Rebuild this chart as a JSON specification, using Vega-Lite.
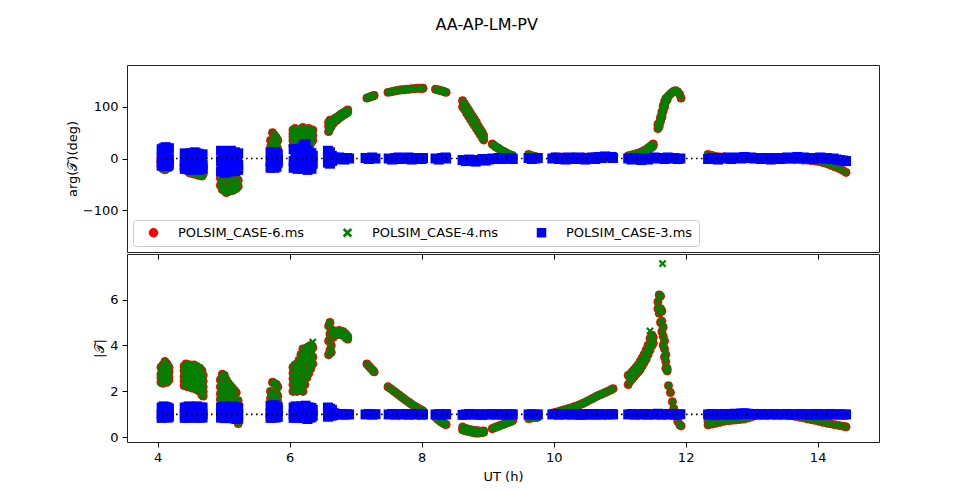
{
"$schema": "https://vega.github.io/schema/vega-lite/v6.json",
"background": "white",
"padding": {"left": 65, "top": 16, "right": 5, "bottom": 5},
"title": {"text": "AA-AP-LM-PV", "fontSize": 16, "fontWeight": "normal", "font": "DejaVu Sans", "color": "black", "anchor": "middle", "offset": 32, "dx": 14},
"config": {
  "font": "DejaVu Sans",
  "view": {"stroke": "#222222", "strokeWidth": 1},
  "axis": {"grid": false, "domain": false, "tickColor": "black", "tickSize": 5, "tickWidth": 1, "labelFontSize": 13, "labelColor": "black", "labelPadding": 4, "titleFontSize": 13, "titleFontWeight": "normal", "titleColor": "black", "titlePadding": 6, "labelFont": "DejaVu Sans", "titleFont": "DejaVu Sans"}
},
"datasets": {
"rg": [
{"t":4.05,"p":-5,"a":2.4},{"t":4.05,"p":-15,"a":2.75},{"t":4.05,"p":0,"a":3.05},{"t":4.05,"p":-8,"a":2.6},
{"t":4.08,"p":-20,"a":2.35},{"t":4.08,"p":-8,"a":2.85},{"t":4.08,"p":2,"a":3.15},{"t":4.08,"p":-12,"a":2.6},
{"t":4.11,"p":-22,"a":2.45},{"t":4.11,"p":-10,"a":3.0},{"t":4.11,"p":-2,"a":3.3},{"t":4.11,"p":-5,"a":2.7},
{"t":4.14,"p":-15,"a":2.4},{"t":4.14,"p":-5,"a":2.8},{"t":4.14,"p":-18,"a":3.2},{"t":4.14,"p":-10,"a":3.0},
{"t":4.17,"p":-10,"a":2.5},{"t":4.17,"p":-18,"a":2.85},{"t":4.17,"p":-3,"a":3.05},{"t":4.17,"p":-6,"a":2.65},
{"t":4.40,"p":-5,"a":3.1},{"t":4.40,"p":-15,"a":2.65},{"t":4.40,"p":-22,"a":2.25},{"t":4.40,"p":-10,"a":2.9},{"t":4.40,"p":-20,"a":2.45},
{"t":4.43,"p":-18,"a":3.2},{"t":4.43,"p":-3,"a":2.75},{"t":4.43,"p":-12,"a":2.3},{"t":4.43,"p":-6,"a":2.95},{"t":4.43,"p":-22,"a":2.5},
{"t":4.46,"p":-8,"a":3.15},{"t":4.46,"p":-25,"a":2.6},{"t":4.46,"p":-2,"a":2.2},{"t":4.46,"p":-15,"a":2.9},{"t":4.46,"p":-10,"a":2.4},
{"t":4.49,"p":-26,"a":3.15},{"t":4.49,"p":-12,"a":2.7},{"t":4.49,"p":-20,"a":2.2},{"t":4.49,"p":-4,"a":2.95},{"t":4.49,"p":-28,"a":2.45},
{"t":4.52,"p":-5,"a":3.1},{"t":4.52,"p":-28,"a":2.55},{"t":4.52,"p":-15,"a":2.15},{"t":4.52,"p":-18,"a":2.85},{"t":4.52,"p":-8,"a":2.35},
{"t":4.55,"p":-20,"a":3.15},{"t":4.55,"p":-8,"a":2.65},{"t":4.55,"p":-30,"a":2.2},{"t":4.55,"p":-12,"a":2.9},{"t":4.55,"p":-25,"a":2.4},
{"t":4.58,"p":-30,"a":3.1},{"t":4.58,"p":-15,"a":2.6},{"t":4.58,"p":-3,"a":2.1},{"t":4.58,"p":-22,"a":2.85},{"t":4.58,"p":-10,"a":2.35},
{"t":4.61,"p":-10,"a":3.05},{"t":4.61,"p":-32,"a":2.5},{"t":4.61,"p":-22,"a":2.05},{"t":4.61,"p":-25,"a":2.8},{"t":4.61,"p":-5,"a":2.3},
{"t":4.64,"p":-28,"a":3.0},{"t":4.64,"p":-5,"a":2.45},{"t":4.64,"p":-33,"a":2.0},{"t":4.64,"p":-12,"a":2.75},{"t":4.64,"p":-20,"a":2.2},
{"t":4.67,"p":-18,"a":2.9},{"t":4.67,"p":-34,"a":2.35},{"t":4.67,"p":-8,"a":1.85},{"t":4.67,"p":-28,"a":2.65},{"t":4.67,"p":-14,"a":2.1},
{"t":4.69,"p":-30,"a":2.7},{"t":4.69,"p":-15,"a":2.2},{"t":4.69,"p":-25,"a":1.8},{"t":4.69,"p":-8,"a":2.45},{"t":4.69,"p":-20,"a":2.0},
{"t":4.95,"p":-5,"a":2.5},{"t":4.95,"p":-22,"a":2.2},{"t":4.95,"p":-38,"a":1.9},{"t":4.95,"p":-52,"a":1.65},
{"t":4.98,"p":-45,"a":2.75},{"t":4.98,"p":-30,"a":2.35},{"t":4.98,"p":-12,"a":2.0},{"t":4.98,"p":-60,"a":1.7},
{"t":5.01,"p":-8,"a":2.7},{"t":5.01,"p":-62,"a":2.3},{"t":5.01,"p":-42,"a":1.9},{"t":5.01,"p":-25,"a":1.55},
{"t":5.04,"p":-55,"a":2.5},{"t":5.04,"p":-18,"a":2.25},{"t":5.04,"p":-66,"a":1.85},{"t":5.04,"p":-36,"a":1.45},
{"t":5.07,"p":-30,"a":2.35},{"t":5.07,"p":-50,"a":2.1},{"t":5.07,"p":-10,"a":1.75},{"t":5.07,"p":-64,"a":1.35},
{"t":5.10,"p":-62,"a":2.25},{"t":5.10,"p":-40,"a":1.9},{"t":5.10,"p":-20,"a":1.6},{"t":5.10,"p":-5,"a":1.3},
{"t":5.13,"p":-15,"a":2.15},{"t":5.13,"p":-56,"a":1.8},{"t":5.13,"p":-34,"a":1.45},{"t":5.13,"p":-62,"a":1.1},
{"t":5.16,"p":-46,"a":2.05},{"t":5.16,"p":-25,"a":1.7},{"t":5.16,"p":-60,"a":1.3},{"t":5.16,"p":-8,"a":1.0},
{"t":5.19,"p":-5,"a":1.95},{"t":5.19,"p":-52,"a":1.6},{"t":5.19,"p":-30,"a":1.15},{"t":5.19,"p":-58,"a":0.8},
{"t":5.22,"p":-42,"a":1.6},{"t":5.22,"p":-20,"a":1.25},{"t":5.22,"p":-54,"a":0.9},{"t":5.22,"p":-12,"a":0.6},
{"t":5.71,"p":5,"a":1.35},{"t":5.71,"p":22,"a":1.7},{"t":5.71,"p":35,"a":2.0},
{"t":5.74,"p":50,"a":2.4},{"t":5.74,"p":28,"a":1.9},{"t":5.74,"p":10,"a":1.5},
{"t":5.77,"p":45,"a":2.35},{"t":5.77,"p":22,"a":1.85},{"t":5.77,"p":5,"a":1.5},
{"t":5.80,"p":40,"a":2.3},{"t":5.80,"p":25,"a":1.9},{"t":5.80,"p":10,"a":1.6},
{"t":5.82,"p":35,"a":2.2},{"t":5.82,"p":18,"a":1.8},{"t":5.82,"p":8,"a":1.55},
{"t":6.05,"p":25,"a":2.0},{"t":6.05,"p":42,"a":2.55},{"t":6.05,"p":55,"a":3.05},{"t":6.05,"p":35,"a":2.3},{"t":6.05,"p":48,"a":2.8},
{"t":6.08,"p":58,"a":3.15},{"t":6.08,"p":30,"a":2.1},{"t":6.08,"p":45,"a":2.6},{"t":6.08,"p":40,"a":2.35},{"t":6.08,"p":50,"a":2.9},
{"t":6.11,"p":35,"a":2.65},{"t":6.11,"p":55,"a":3.2},{"t":6.11,"p":22,"a":2.0},{"t":6.11,"p":45,"a":2.4},{"t":6.11,"p":30,"a":2.95},
{"t":6.14,"p":50,"a":2.2},{"t":6.14,"p":28,"a":2.85},{"t":6.14,"p":40,"a":3.35},{"t":6.14,"p":35,"a":2.5},{"t":6.14,"p":55,"a":3.1},
{"t":6.17,"p":25,"a":2.1},{"t":6.17,"p":52,"a":3.0},{"t":6.17,"p":38,"a":3.6},{"t":6.17,"p":45,"a":2.4},{"t":6.17,"p":30,"a":3.3},
{"t":6.20,"p":60,"a":3.85},{"t":6.20,"p":42,"a":2.9},{"t":6.20,"p":22,"a":2.0},{"t":6.20,"p":35,"a":2.5},{"t":6.20,"p":50,"a":3.4},
{"t":6.23,"p":30,"a":2.3},{"t":6.23,"p":50,"a":3.3},{"t":6.23,"p":40,"a":3.8},{"t":6.23,"p":45,"a":2.7},{"t":6.23,"p":25,"a":3.55},
{"t":6.26,"p":55,"a":3.9},{"t":6.26,"p":25,"a":2.6},{"t":6.26,"p":45,"a":3.2},{"t":6.26,"p":40,"a":2.9},{"t":6.26,"p":35,"a":3.55},
{"t":6.29,"p":35,"a":2.8},{"t":6.29,"p":58,"a":3.5},{"t":6.29,"p":28,"a":3.95},{"t":6.29,"p":50,"a":3.1},{"t":6.29,"p":42,"a":3.7},
{"t":6.32,"p":50,"a":4.0},{"t":6.32,"p":40,"a":3.0},{"t":6.32,"p":30,"a":3.6},{"t":6.32,"p":45,"a":3.3},{"t":6.32,"p":55,"a":3.8},
{"t":6.35,"p":45,"a":3.9},{"t":6.35,"p":35,"a":3.2},{"t":6.35,"p":55,"a":3.5},
{"t":6.35,"p":48,"a":4.15,"o":1},
{"t":6.59,"p":52,"a":3.6},{"t":6.59,"p":62,"a":4.2},{"t":6.59,"p":70,"a":4.85},
{"t":6.61,"p":58,"a":3.8},{"t":6.61,"p":68,"a":4.5},{"t":6.61,"p":74,"a":5.0},
{"t":6.63,"p":62,"a":4.0},{"t":6.63,"p":74,"a":4.7},{"t":6.63,"p":68,"a":3.7},
{"t":6.66,"p":74,"a":4.6},{"t":6.66,"p":68,"a":4.35},
{"t":6.69,"p":78,"a":4.62},{"t":6.69,"p":72,"a":4.45},
{"t":6.72,"p":80,"a":4.62},{"t":6.72,"p":75,"a":4.48},
{"t":6.75,"p":83,"a":4.65},{"t":6.75,"p":78,"a":4.5},
{"t":6.78,"p":86,"a":4.62},{"t":6.78,"p":81,"a":4.46},
{"t":6.81,"p":88,"a":4.6},{"t":6.81,"p":84,"a":4.44},
{"t":6.84,"p":90,"a":4.52},{"t":6.84,"p":86,"a":4.38},
{"t":6.86,"p":92,"a":4.45},{"t":6.86,"p":88,"a":4.32},
{"t":6.88,"p":94,"a":4.38},{"t":6.88,"p":90,"a":4.28},
{"t":7.17,"p":117,"a":3.2},{"t":7.20,"p":118,"a":3.1},{"t":7.23,"p":120,"a":3.0},{"t":7.26,"p":121,"a":2.92},{"t":7.28,"p":122,"a":2.85},
{"t":7.49,"p":128,"a":2.2},{"t":7.53,"p":129,"a":2.12},{"t":7.57,"p":130,"a":2.03},{"t":7.61,"p":131,"a":1.95},{"t":7.65,"p":132,"a":1.86},
{"t":7.69,"p":133,"a":1.77},{"t":7.73,"p":133,"a":1.69},{"t":7.77,"p":134,"a":1.6},{"t":7.81,"p":134,"a":1.52},{"t":7.85,"p":135,"a":1.44},
{"t":7.89,"p":135,"a":1.37},{"t":7.93,"p":136,"a":1.3},{"t":7.97,"p":136,"a":1.23},{"t":8.00,"p":136,"a":1.18},{"t":8.02,"p":136,"a":1.14},
{"t":8.21,"p":134,"a":0.88},{"t":8.24,"p":133,"a":0.8},{"t":8.27,"p":132,"a":0.73},{"t":8.30,"p":131,"a":0.67},{"t":8.33,"p":130,"a":0.62},{"t":8.35,"p":129,"a":0.58},{"t":8.37,"p":128,"a":0.56},
{"t":8.62,"p":112,"a":0.45},{"t":8.62,"p":100,"a":0.33},
{"t":8.65,"p":106,"a":0.4},{"t":8.65,"p":95,"a":0.3},
{"t":8.68,"p":100,"a":0.38},{"t":8.68,"p":88,"a":0.28},
{"t":8.71,"p":94,"a":0.35},{"t":8.71,"p":82,"a":0.26},
{"t":8.74,"p":88,"a":0.33},{"t":8.74,"p":76,"a":0.24},
{"t":8.77,"p":82,"a":0.31},{"t":8.77,"p":70,"a":0.22},
{"t":8.80,"p":76,"a":0.3},{"t":8.80,"p":64,"a":0.2},
{"t":8.83,"p":70,"a":0.29},{"t":8.83,"p":58,"a":0.19},
{"t":8.86,"p":62,"a":0.28},{"t":8.86,"p":52,"a":0.19},
{"t":8.89,"p":56,"a":0.27},{"t":8.89,"p":46,"a":0.2},
{"t":8.92,"p":50,"a":0.27},{"t":8.92,"p":40,"a":0.21},
{"t":8.94,"p":44,"a":0.28},{"t":8.94,"p":36,"a":0.23},
{"t":9.07,"p":28,"a":0.38},{"t":9.10,"p":25,"a":0.42},{"t":9.13,"p":22,"a":0.45},{"t":9.16,"p":20,"a":0.48},{"t":9.19,"p":17,"a":0.52},{"t":9.22,"p":15,"a":0.55},
{"t":9.25,"p":13,"a":0.58},{"t":9.28,"p":11,"a":0.62},{"t":9.31,"p":9,"a":0.65},{"t":9.34,"p":7,"a":0.68},{"t":9.37,"p":6,"a":0.72},{"t":9.38,"p":5,"a":0.74},
{"t":9.62,"p":8,"a":0.82},{"t":9.65,"p":6,"a":0.84},{"t":9.68,"p":5,"a":0.85},{"t":9.71,"p":4,"a":0.86},{"t":9.74,"p":3,"a":0.87},{"t":9.76,"p":2,"a":0.88},
{"t":9.98,"p":2,"a":1.05},{"t":10.02,"p":3,"a":1.08},{"t":10.06,"p":1,"a":1.11},{"t":10.10,"p":2,"a":1.15},{"t":10.14,"p":3,"a":1.18},{"t":10.18,"p":2,"a":1.21},
{"t":10.22,"p":1,"a":1.25},{"t":10.26,"p":2,"a":1.28},{"t":10.30,"p":3,"a":1.32},{"t":10.34,"p":2,"a":1.36},{"t":10.38,"p":1,"a":1.4},{"t":10.42,"p":2,"a":1.45},
{"t":10.46,"p":3,"a":1.5},{"t":10.50,"p":2,"a":1.56},{"t":10.54,"p":2,"a":1.62},{"t":10.58,"p":3,"a":1.68},{"t":10.62,"p":2,"a":1.74},{"t":10.66,"p":1,"a":1.8},
{"t":10.70,"p":2,"a":1.85},{"t":10.74,"p":3,"a":1.9},{"t":10.78,"p":2,"a":1.95},{"t":10.82,"p":2,"a":2.0},{"t":10.86,"p":3,"a":2.06},{"t":10.90,"p":2,"a":2.12},
{"t":11.13,"p":3,"a":2.3},{"t":11.13,"p":5,"a":2.7},
{"t":11.16,"p":4,"a":2.45},{"t":11.16,"p":6,"a":2.75},
{"t":11.19,"p":5,"a":2.55},{"t":11.19,"p":7,"a":2.85},
{"t":11.22,"p":6,"a":2.65},{"t":11.22,"p":8,"a":2.95},
{"t":11.25,"p":7,"a":2.75},{"t":11.25,"p":9,"a":3.05},
{"t":11.28,"p":8,"a":2.85},{"t":11.28,"p":10,"a":3.15},
{"t":11.31,"p":9,"a":2.95},{"t":11.31,"p":11,"a":3.3},
{"t":11.34,"p":10,"a":3.1},{"t":11.34,"p":13,"a":3.45},
{"t":11.37,"p":12,"a":3.25},{"t":11.37,"p":15,"a":3.6},
{"t":11.40,"p":14,"a":3.4},{"t":11.40,"p":17,"a":3.8},
{"t":11.43,"p":16,"a":3.6},{"t":11.43,"p":20,"a":4.0},
{"t":11.46,"p":19,"a":3.8},{"t":11.46,"p":23,"a":4.3},
{"t":11.49,"p":22,"a":4.0},{"t":11.49,"p":26,"a":4.45},
{"t":11.51,"p":25,"a":4.1},{"t":11.51,"p":28,"a":4.35},
{"t":11.46,"p":22,"a":4.63,"o":1},
{"t":11.58,"p":58,"a":5.6},{"t":11.58,"p":66,"a":5.9},
{"t":11.60,"p":68,"a":6.2},{"t":11.60,"p":62,"a":5.4},
{"t":11.62,"p":72,"a":6.15},{"t":11.62,"p":80,"a":5.0},{"t":11.62,"p":76,"a":5.6},
{"t":11.64,"p":84,"a":5.5},{"t":11.64,"p":90,"a":4.6},{"t":11.64,"p":80,"a":5.05},
{"t":11.66,"p":96,"a":4.8},{"t":11.66,"p":102,"a":4.0},{"t":11.66,"p":92,"a":4.4},
{"t":11.68,"p":104,"a":4.2},{"t":11.68,"p":110,"a":3.5},{"t":11.68,"p":100,"a":3.85},
{"t":11.70,"p":110,"a":3.6},{"t":11.70,"p":116,"a":3.0},{"t":11.70,"p":113,"a":3.3},
{"t":11.72,"p":118,"a":3.0},{"t":11.72,"p":114,"a":2.9},
{"t":11.65,"p":95,"a":7.56,"o":1},
{"t":11.74,"p":121,"a":2.25},{"t":11.77,"p":125,"a":1.95},{"t":11.80,"p":128,"a":1.55},{"t":11.82,"p":130,"a":1.25},
{"t":11.85,"p":131,"a":0.95},{"t":11.88,"p":129,"a":0.7},{"t":11.91,"p":124,"a":0.55},{"t":11.93,"p":117,"a":0.5},
{"t":12.34,"p":8,"a":0.55},{"t":12.34,"p":6,"a":0.7},{"t":12.40,"p":6,"a":0.58},{"t":12.40,"p":5,"a":0.72},
{"t":12.46,"p":4,"a":0.62},{"t":12.52,"p":3,"a":0.66},{"t":12.58,"p":3,"a":0.7},{"t":12.64,"p":2,"a":0.72},
{"t":12.70,"p":2,"a":0.74},{"t":12.76,"p":2,"a":0.76},{"t":12.82,"p":2,"a":0.78},{"t":12.88,"p":2,"a":0.8},
{"t":12.94,"p":1,"a":0.84},{"t":13.00,"p":2,"a":0.9},{"t":13.06,"p":1,"a":0.95},{"t":13.12,"p":2,"a":0.98},
{"t":13.18,"p":1,"a":1.0},{"t":13.24,"p":1,"a":1.0},{"t":13.30,"p":0,"a":1.0},{"t":13.36,"p":1,"a":0.99},
{"t":13.42,"p":0,"a":0.99},{"t":13.48,"p":0,"a":0.98},{"t":13.54,"p":-1,"a":0.97},{"t":13.60,"p":-1,"a":0.95},
{"t":13.66,"p":-2,"a":0.92},{"t":13.72,"p":-2,"a":0.88},{"t":13.78,"p":-3,"a":0.85},{"t":13.84,"p":-3,"a":0.81},
{"t":13.90,"p":-4,"a":0.78},{"t":13.96,"p":-5,"a":0.74},{"t":14.02,"p":-6,"a":0.7},{"t":14.08,"p":-8,"a":0.66},
{"t":14.14,"p":-10,"a":0.62},{"t":14.20,"p":-13,"a":0.59},{"t":14.26,"p":-16,"a":0.55},{"t":14.32,"p":-19,"a":0.52},
{"t":14.38,"p":-23,"a":0.49},{"t":14.43,"p":-27,"a":0.46}
],
"b": [
{"t":4.06,"p":18,"a":1.3},{"t":4.06,"p":2,"a":1.0},{"t":4.06,"p":-14,"a":0.85},
{"t":4.09,"p":-12,"a":1.35},{"t":4.09,"p":20,"a":0.9},{"t":4.09,"p":5,"a":1.1},
{"t":4.12,"p":10,"a":0.88},{"t":4.12,"p":-15,"a":1.2},{"t":4.12,"p":22,"a":1.32},
{"t":4.15,"p":-5,"a":1.3},{"t":4.15,"p":15,"a":1.05},{"t":4.15,"p":-14,"a":0.86},
{"t":4.17,"p":20,"a":1.0},{"t":4.17,"p":0,"a":1.25},{"t":4.17,"p":-12,"a":0.9},
{"t":4.41,"p":10,"a":1.3},{"t":4.41,"p":-5,"a":1.0},{"t":4.41,"p":-20,"a":0.85},
{"t":4.44,"p":-18,"a":1.3},{"t":4.44,"p":8,"a":0.88},{"t":4.44,"p":-3,"a":1.1},
{"t":4.47,"p":5,"a":1.35},{"t":4.47,"p":-20,"a":1.05},{"t":4.47,"p":-8,"a":0.86},
{"t":4.50,"p":-12,"a":1.3},{"t":4.50,"p":10,"a":1.0},{"t":4.50,"p":-22,"a":0.88},
{"t":4.53,"p":8,"a":1.32},{"t":4.53,"p":-6,"a":0.9},{"t":4.53,"p":-18,"a":1.15},
{"t":4.56,"p":-20,"a":1.3},{"t":4.56,"p":4,"a":1.05},{"t":4.56,"p":12,"a":0.86},
{"t":4.59,"p":10,"a":1.35},{"t":4.59,"p":-15,"a":0.88},{"t":4.59,"p":-2,"a":1.1},
{"t":4.62,"p":-8,"a":1.3},{"t":4.62,"p":-22,"a":1.0},{"t":4.62,"p":9,"a":0.87},
{"t":4.65,"p":6,"a":1.3},{"t":4.65,"p":-18,"a":1.2},{"t":4.65,"p":-5,"a":0.86},
{"t":4.68,"p":-12,"a":1.3},{"t":4.68,"p":8,"a":1.0},{"t":4.68,"p":-20,"a":0.87},
{"t":4.96,"p":15,"a":1.3},{"t":4.96,"p":-5,"a":1.0},{"t":4.96,"p":-25,"a":0.86},
{"t":4.99,"p":-20,"a":1.32},{"t":4.99,"p":10,"a":0.88},{"t":4.99,"p":-2,"a":1.12},
{"t":5.02,"p":5,"a":1.35},{"t":5.02,"p":-28,"a":1.05},{"t":5.02,"p":-12,"a":0.84},
{"t":5.05,"p":-15,"a":1.3},{"t":5.05,"p":14,"a":1.0},{"t":5.05,"p":-25,"a":0.86},
{"t":5.08,"p":12,"a":1.32},{"t":5.08,"p":-8,"a":0.88},{"t":5.08,"p":-22,"a":1.15},
{"t":5.11,"p":-25,"a":1.3},{"t":5.11,"p":2,"a":1.05},{"t":5.11,"p":15,"a":0.84},
{"t":5.14,"p":10,"a":1.35},{"t":5.14,"p":-18,"a":0.86},{"t":5.14,"p":-5,"a":1.1},
{"t":5.17,"p":-8,"a":1.3},{"t":5.17,"p":-24,"a":1.0},{"t":5.17,"p":12,"a":0.82},
{"t":5.20,"p":8,"a":1.3},{"t":5.20,"p":-20,"a":1.2},{"t":5.20,"p":-5,"a":0.8},
{"t":5.22,"p":-12,"a":1.28},{"t":5.22,"p":10,"a":1.0},{"t":5.22,"p":-22,"a":0.82},
{"t":5.71,"p":12,"a":1.38},{"t":5.71,"p":-5,"a":1.05},{"t":5.71,"p":-18,"a":0.85},
{"t":5.74,"p":-15,"a":1.35},{"t":5.74,"p":8,"a":0.88},{"t":5.74,"p":0,"a":1.15},
{"t":5.77,"p":5,"a":1.4},{"t":5.77,"p":-18,"a":1.0},{"t":5.77,"p":12,"a":0.86},
{"t":5.80,"p":-10,"a":1.3},{"t":5.80,"p":10,"a":1.05},{"t":5.80,"p":-16,"a":0.88},
{"t":5.82,"p":8,"a":1.3},{"t":5.82,"p":-8,"a":1.15},{"t":5.82,"p":-3,"a":0.9},
{"t":6.06,"p":18,"a":1.3},{"t":6.06,"p":-5,"a":1.0},{"t":6.06,"p":-18,"a":0.85},
{"t":6.09,"p":-15,"a":1.35},{"t":6.09,"p":10,"a":0.88},{"t":6.09,"p":0,"a":1.12},
{"t":6.12,"p":5,"a":1.32},{"t":6.12,"p":-20,"a":1.05},{"t":6.12,"p":18,"a":0.86},
{"t":6.15,"p":-10,"a":1.3},{"t":6.15,"p":14,"a":1.0},{"t":6.15,"p":-18,"a":0.88},
{"t":6.18,"p":20,"a":1.35},{"t":6.18,"p":-8,"a":0.9},{"t":6.18,"p":-20,"a":1.15},
{"t":6.21,"p":-18,"a":1.3},{"t":6.21,"p":2,"a":1.05},{"t":6.21,"p":25,"a":0.84},
{"t":6.24,"p":28,"a":1.38},{"t":6.24,"p":-15,"a":0.88},{"t":6.24,"p":5,"a":1.1},
{"t":6.27,"p":-8,"a":1.3},{"t":6.27,"p":-22,"a":1.0},{"t":6.27,"p":15,"a":0.8},
{"t":6.30,"p":12,"a":1.3},{"t":6.30,"p":-18,"a":1.2},{"t":6.30,"p":-2,"a":0.86},
{"t":6.33,"p":-12,"a":1.28},{"t":6.33,"p":10,"a":1.0},{"t":6.33,"p":-20,"a":0.88},
{"t":6.35,"p":5,"a":1.2},{"t":6.35,"p":-10,"a":0.95},
{"t":6.58,"p":15,"a":1.3},{"t":6.58,"p":-8,"a":0.9},{"t":6.58,"p":3,"a":1.1},
{"t":6.61,"p":-10,"a":1.25},{"t":6.61,"p":12,"a":0.95},{"t":6.61,"p":0,"a":1.05},
{"t":6.64,"p":5,"a":1.2},{"t":6.64,"p":-5,"a":0.95},
{"t":6.67,"p":2,"a":1.05},{"t":6.67,"p":-2,"a":0.98},
{"t":6.71,"p":-1,"a":1.02},{"t":6.75,"p":2,"a":1.0},{"t":6.79,"p":0,"a":1.02},{"t":6.83,"p":-2,"a":0.99},{"t":6.87,"p":1,"a":1.01},{"t":6.90,"p":0,"a":1.0},
{"t":7.15,"p":1,"a":1.0},{"t":7.20,"p":-1,"a":1.02},{"t":7.25,"p":2,"a":0.99},{"t":7.30,"p":0,"a":1.01},
{"t":7.50,"p":0,"a":1.0},{"t":7.55,"p":-2,"a":1.02},{"t":7.60,"p":1,"a":0.99},{"t":7.65,"p":2,"a":1.01},{"t":7.70,"p":-1,"a":1.0},{"t":7.75,"p":0,"a":1.02},
{"t":7.80,"p":2,"a":0.99},{"t":7.85,"p":-2,"a":1.01},{"t":7.90,"p":1,"a":1.0},{"t":7.95,"p":0,"a":1.02},{"t":8.00,"p":-1,"a":0.99},{"t":8.02,"p":1,"a":1.0},
{"t":8.21,"p":0,"a":1.0},{"t":8.26,"p":-2,"a":1.01},{"t":8.31,"p":1,"a":0.99},{"t":8.36,"p":2,"a":1.0},{"t":8.37,"p":0,"a":1.01},
{"t":8.62,"p":-3,"a":0.98},{"t":8.67,"p":-5,"a":1.0},{"t":8.72,"p":-2,"a":1.02},{"t":8.77,"p":-4,"a":0.99},{"t":8.82,"p":-6,"a":1.01},{"t":8.87,"p":-3,"a":1.0},
{"t":8.92,"p":-1,"a":0.98},{"t":8.97,"p":-4,"a":1.01},{"t":9.02,"p":-2,"a":1.0},{"t":9.07,"p":0,"a":1.02},{"t":9.12,"p":-1,"a":0.99},{"t":9.17,"p":1,"a":1.01},
{"t":9.22,"p":-1,"a":1.0},{"t":9.27,"p":0,"a":0.99},{"t":9.32,"p":1,"a":1.01},{"t":9.37,"p":0,"a":1.0},{"t":9.38,"p":-1,"a":1.0},
{"t":9.62,"p":1,"a":1.0},{"t":9.67,"p":-1,"a":1.01},{"t":9.72,"p":0,"a":0.99},{"t":9.76,"p":1,"a":1.0},
{"t":9.98,"p":0,"a":1.0},{"t":10.03,"p":2,"a":1.02},{"t":10.08,"p":-1,"a":0.99},{"t":10.13,"p":1,"a":1.01},{"t":10.18,"p":-2,"a":1.0},{"t":10.23,"p":2,"a":1.02},
{"t":10.28,"p":0,"a":0.99},{"t":10.33,"p":-1,"a":1.01},{"t":10.38,"p":2,"a":1.0},{"t":10.43,"p":1,"a":0.98},{"t":10.48,"p":-2,"a":1.01},{"t":10.53,"p":0,"a":1.02},
{"t":10.58,"p":2,"a":0.99},{"t":10.63,"p":-1,"a":1.0},{"t":10.68,"p":3,"a":1.02},{"t":10.73,"p":1,"a":0.99},{"t":10.78,"p":4,"a":1.01},{"t":10.83,"p":2,"a":1.0},
{"t":10.88,"p":3,"a":1.02},{"t":10.90,"p":1,"a":1.0},
{"t":11.13,"p":0,"a":1.0},{"t":11.18,"p":-2,"a":1.02},{"t":11.23,"p":1,"a":0.99},{"t":11.28,"p":-1,"a":1.01},{"t":11.33,"p":-3,"a":1.0},{"t":11.38,"p":0,"a":1.02},
{"t":11.43,"p":-2,"a":0.99},{"t":11.48,"p":1,"a":1.01},{"t":11.53,"p":2,"a":1.0},{"t":11.58,"p":0,"a":1.03},{"t":11.63,"p":1,"a":0.99},{"t":11.68,"p":-1,"a":1.01},
{"t":11.73,"p":2,"a":1.0},{"t":11.78,"p":0,"a":1.02},{"t":11.83,"p":1,"a":0.99},{"t":11.88,"p":-1,"a":1.0},{"t":11.92,"p":0,"a":1.01},
{"t":12.34,"p":-1,"a":1.0},{"t":12.39,"p":1,"a":1.02},{"t":12.44,"p":0,"a":0.99},{"t":12.49,"p":-2,"a":1.01},{"t":12.54,"p":1,"a":1.0},{"t":12.59,"p":0,"a":1.02},
{"t":12.64,"p":2,"a":0.99},{"t":12.69,"p":-1,"a":1.01},{"t":12.74,"p":1,"a":1.03},{"t":12.79,"p":2,"a":1.0},{"t":12.84,"p":0,"a":1.04},{"t":12.89,"p":3,"a":1.05},
{"t":12.94,"p":1,"a":1.03},{"t":12.99,"p":2,"a":1.01},{"t":13.04,"p":0,"a":1.02},{"t":13.09,"p":1,"a":1.0},{"t":13.14,"p":-1,"a":1.02},{"t":13.19,"p":1,"a":0.99},
{"t":13.24,"p":0,"a":1.01},{"t":13.29,"p":-2,"a":1.0},{"t":13.34,"p":1,"a":1.02},{"t":13.39,"p":0,"a":0.99},{"t":13.44,"p":-1,"a":1.01},{"t":13.49,"p":1,"a":1.0},
{"t":13.54,"p":2,"a":1.02},{"t":13.59,"p":0,"a":0.99},{"t":13.64,"p":1,"a":1.01},{"t":13.69,"p":3,"a":1.0},{"t":13.74,"p":1,"a":1.02},{"t":13.79,"p":2,"a":1.0},
{"t":13.84,"p":0,"a":1.01},{"t":13.89,"p":1,"a":0.99},{"t":13.94,"p":-1,"a":1.0},{"t":13.99,"p":1,"a":1.02},{"t":14.04,"p":2,"a":0.99},{"t":14.09,"p":0,"a":1.01},
{"t":14.14,"p":1,"a":1.0},{"t":14.19,"p":-1,"a":1.02},{"t":14.24,"p":0,"a":0.99},{"t":14.29,"p":-2,"a":1.01},{"t":14.34,"p":-3,"a":1.0},{"t":14.39,"p":-4,"a":0.99},{"t":14.43,"p":-5,"a":1.0}
],
"ref": [{"t1":4.05,"t2":14.45,"p":0,"a":1}]
},
"spacing": 0,
"resolve": {"scale": {"color": "independent", "shape": "independent"}, "legend": {"color": "independent", "shape": "independent"}},
"vconcat": [
{
 "width": 752, "height": 187,
 "encoding": {
   "x": {"field": "t", "type": "quantitative", "scale": {"domain": [3.535, 14.93], "nice": false, "zero": false}, "axis": null},
   "y": {"field": "p", "type": "quantitative", "scale": {"domain": [-181, 181], "nice": false, "zero": false}, "axis": {"values": [-100,0,100], "title": "arg(𝒯)(deg)", "titlePadding": 3}}
 },
 "layer": [
  {"data": {"name": "rg"}, "transform": [{"filter": "datum.o != 1"}],
   "mark": {"type": "point", "filled": true, "size": 80, "opacity": 1},
   "encoding": {
     "color": {"datum": "POLSIM_CASE-6.ms", "type": "nominal", "scale": {"domain": ["POLSIM_CASE-6.ms","POLSIM_CASE-4.ms","POLSIM_CASE-3.ms"], "range": ["#ff0000","#008000","#0000ff"]},
       "legend": {"title": null, "orient": "bottom-left", "direction": "horizontal", "offset": 6, "padding": 6, "symbolOffset": 8, "strokeColor": "#cccccc", "fillColor": "white", "cornerRadius": 3, "labelFontSize": 13, "labelColor": "black", "labelOffset": 18, "columnPadding": 28, "symbolSize": 90, "symbolStrokeWidth": 0}},
     "shape": {"datum": "POLSIM_CASE-6.ms", "type": "nominal", "scale": {"domain": ["POLSIM_CASE-6.ms","POLSIM_CASE-4.ms","POLSIM_CASE-3.ms"], "range": ["circle","M-1,-0.6L-0.6,-1L0,-0.4L0.6,-1L1,-0.6L0.4,0L1,0.6L0.6,1L0,0.4L-0.6,1L-1,0.6L-0.4,0Z","square"]},
       "legend": {"title": null, "orient": "bottom-left", "direction": "horizontal", "offset": 6, "padding": 6, "symbolOffset": 8, "strokeColor": "#cccccc", "fillColor": "white", "cornerRadius": 3, "labelFontSize": 13, "labelColor": "black", "labelOffset": 18, "columnPadding": 28, "symbolSize": 90, "symbolStrokeWidth": 0}}
   }},
  {"data": {"name": "rg"},
   "mark": {"type": "point", "filled": true, "size": 60, "opacity": 1},
   "encoding": {
     "color": {"datum": "POLSIM_CASE-4.ms", "type": "nominal"},
     "shape": {"datum": "POLSIM_CASE-4.ms", "type": "nominal"}
   }},
  {"data": {"name": "b"},
   "mark": {"type": "point", "filled": true, "size": 100, "opacity": 1},
   "encoding": {
     "color": {"datum": "POLSIM_CASE-3.ms", "type": "nominal"},
     "shape": {"datum": "POLSIM_CASE-3.ms", "type": "nominal"}
   }},
  {"data": {"name": "ref"},
   "mark": {"type": "rule", "color": "black", "strokeWidth": 1.6, "strokeDash": [1.6, 3.4]},
   "encoding": {"x": {"field": "t1", "type": "quantitative"}, "x2": {"field": "t2"}, "y": {"field": "p", "type": "quantitative"}}}
 ]
},
{
 "width": 752, "height": 188,
 "encoding": {
   "y": {"field": "a", "type": "quantitative", "scale": {"domain": [-0.2, 7.98], "nice": false, "zero": false}, "axis": {"values": [0,2,4,6], "title": "|𝒯|", "titlePadding": 3}}
 },
 "resolve": {"axis": {"x": "independent"}},
 "layer": [
  {"data": {"name": "rg"}, "transform": [{"filter": "datum.o != 1"}],
   "mark": {"type": "point", "filled": true, "size": 80, "opacity": 1, "color": "#ff0000", "shape": "circle"},
   "encoding": {"x": {"field": "t", "type": "quantitative", "scale": {"domain": [3.535, 14.93], "nice": false, "zero": false}, "axis": {"values": [4,6,8,10,12,14], "title": "UT (h)"}}}},
  {"data": {"name": "rg"},
   "mark": {"type": "point", "filled": true, "size": 60, "opacity": 1, "color": "#008000", "shape": "M-1,-0.6L-0.6,-1L0,-0.4L0.6,-1L1,-0.6L0.4,0L1,0.6L0.6,1L0,0.4L-0.6,1L-1,0.6L-0.4,0Z"},
   "encoding": {"x": {"field": "t", "type": "quantitative", "axis": null}}},
  {"data": {"name": "b"},
   "mark": {"type": "point", "filled": true, "size": 100, "opacity": 1, "color": "#0000ff", "shape": "square"},
   "encoding": {"x": {"field": "t", "type": "quantitative", "axis": null}}},
  {"data": {"name": "ref"},
   "mark": {"type": "rule", "color": "black", "strokeWidth": 1.6, "strokeDash": [1.6, 3.4]},
   "encoding": {"x": {"field": "t1", "type": "quantitative", "axis": {"orient": "top", "values": [4,6,8,10,12,14], "labels": false, "title": null, "tickSize": -5}}, "x2": {"field": "t2"}, "y": {"field": "a", "type": "quantitative"}}}
 ]
}
]
}
